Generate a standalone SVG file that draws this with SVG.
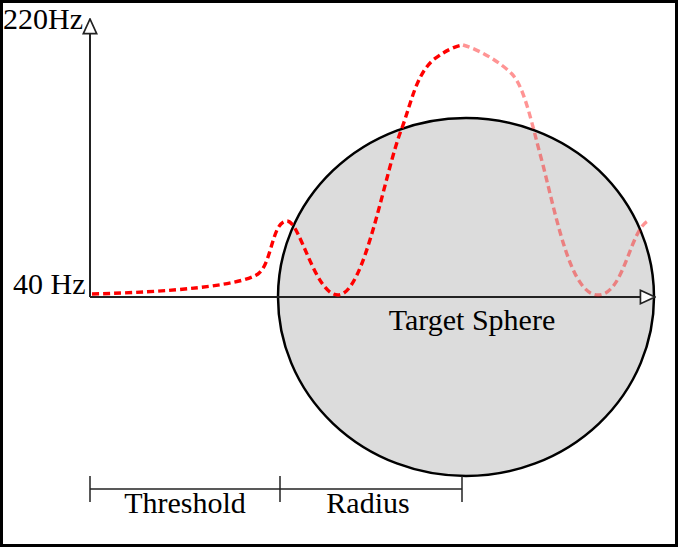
<svg xmlns="http://www.w3.org/2000/svg" width="678" height="547" viewBox="0 0 678 547">
<style>
text{font-family:"Liberation Serif","Times New Roman",serif;font-size:30px;fill:#000}
.ax{stroke:#222;stroke-width:2;fill:none}
.br{stroke:#222;stroke-width:1.5;fill:none}
.curve{fill:none;stroke:#ff0000;stroke-width:3.4;stroke-dasharray:7 4}
</style>
<defs>
<marker id="tri" viewBox="0 0 14 14" refX="13" refY="7" markerWidth="17" markerHeight="17" markerUnits="userSpaceOnUse" orient="auto">
<path d="M1,1.5 L13,7 L1,12.5 Z" fill="#fff" stroke="#222" stroke-width="1.4"/>
</marker>
</defs>
<rect x="1.5" y="1.5" width="675" height="544" fill="#fff" stroke="#000" stroke-width="3"/>
<g id="sphere">
<ellipse cx="466" cy="297" rx="188" ry="179" fill="#dcdcdc" stroke="#000" stroke-width="2.5"/>
<text x="472" y="330" text-anchor="middle">Target Sphere</text>
</g>
<g id="axes">
<line class="ax" x1="90" y1="297" x2="90" y2="19" marker-end="url(#tri)"/>
<line class="ax" x1="90" y1="297" x2="655" y2="297" marker-end="url(#tri)"/>
<text x="3" y="29">220Hz</text>
<text x="13" y="294">40 Hz</text>
</g>
<g id="curve">
<path class="curve" d="M92,294 C170,292 240,286 258,274 C272,264 272,221 287,221 C300,221 315,295 338,295 C365,295 385,170 402,128 C412,100 416,76 433,60 C445,51 455,46 463,45"/>
<path class="curve" stroke-opacity="0.42" d="M463,45 C480,50 500,62 512,74 C525,88 532,125 543,165 C558,225 572,295 598,295 C625,295 630,226 650,220"/>
</g>
<g id="bracket">
<line class="br" x1="90" y1="489" x2="462" y2="489"/>
<line class="br" x1="90" y1="476" x2="90" y2="502"/>
<line class="br" x1="280" y1="476" x2="280" y2="502"/>
<line class="br" x1="462" y1="476" x2="462" y2="502"/>
<text x="185" y="513" text-anchor="middle">Threshold</text>
<text x="368" y="513" text-anchor="middle">Radius</text>
</g>
</svg>
